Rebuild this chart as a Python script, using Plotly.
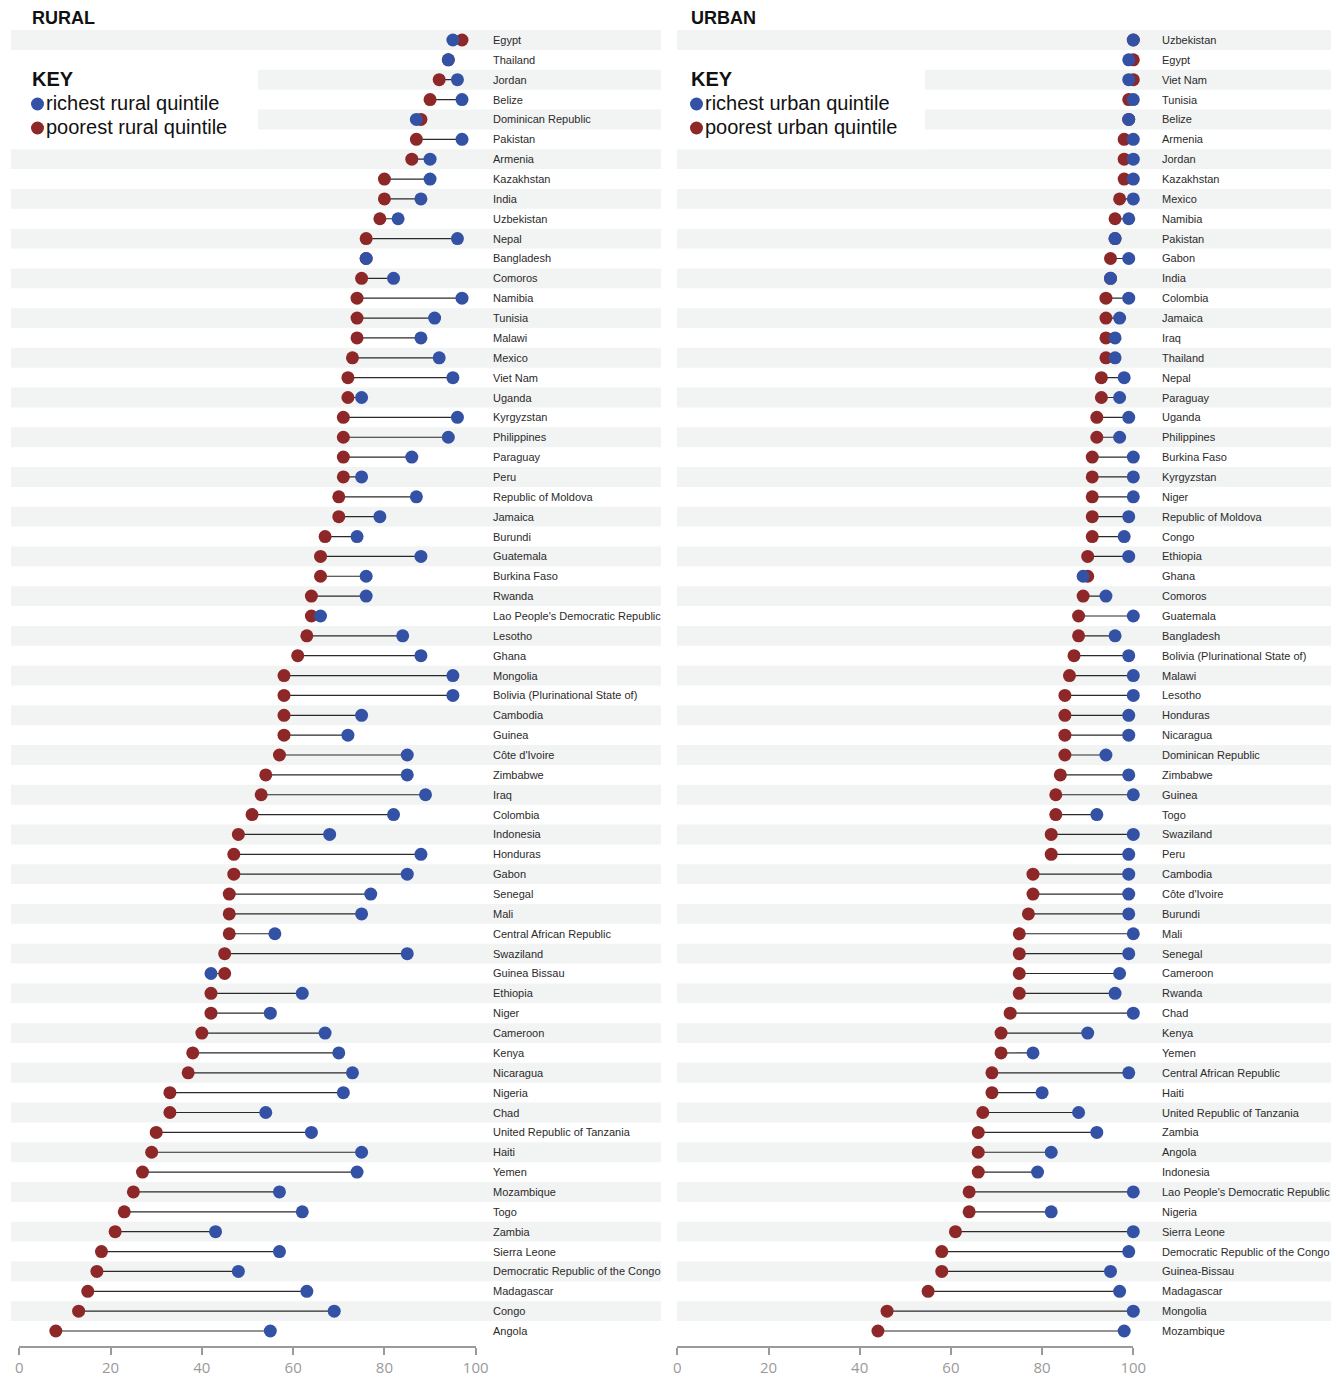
import plotly.graph_objects as go

# ---------------- DATA ----------------
rural_countries = [
    "Egypt", "Thailand", "Jordan", "Belize", "Dominican Republic", "Pakistan", "Armenia",
    "Kazakhstan", "India", "Uzbekistan", "Nepal", "Bangladesh", "Comoros", "Namibia",
    "Tunisia", "Malawi", "Mexico", "Viet Nam", "Uganda", "Kyrgyzstan", "Philippines",
    "Paraguay", "Peru", "Republic of Moldova", "Jamaica", "Burundi", "Guatemala",
    "Burkina Faso", "Rwanda", "Lao People's Democratic Republic", "Lesotho", "Ghana",
    "Mongolia", "Bolivia (Plurinational State of)", "Cambodia", "Guinea", "Côte d'Ivoire",
    "Zimbabwe", "Iraq", "Colombia", "Indonesia", "Honduras", "Gabon", "Senegal", "Mali",
    "Central African Republic", "Swaziland", "Guinea Bissau", "Ethiopia", "Niger",
    "Cameroon", "Kenya", "Nicaragua", "Nigeria", "Chad", "United Republic of Tanzania",
    "Haiti", "Yemen", "Mozambique", "Togo", "Zambia", "Sierra Leone",
    "Democratic Republic of the Congo", "Madagascar", "Congo", "Angola",
]
rural_poorest = [
    97, 94, 92, 90, 88, 87, 86, 80, 80, 79, 76, 76, 75, 74, 74, 74, 73, 72, 72, 71, 71,
    71, 71, 70, 70, 67, 66, 66, 64, 64, 63, 61, 58, 58, 58, 58, 57, 54, 53, 51, 48, 47,
    47, 46, 46, 46, 45, 45, 42, 42, 40, 38, 37, 33, 33, 30, 29, 27, 25, 23, 21, 18, 17,
    15, 13, 8,
]
rural_richest = [
    95, 94, 96, 97, 87, 97, 90, 90, 88, 83, 96, 76, 82, 97, 91, 88, 92, 95, 75, 96, 94,
    86, 75, 87, 79, 74, 88, 76, 76, 66, 84, 88, 95, 95, 75, 72, 85, 85, 89, 82, 68, 88,
    85, 77, 75, 56, 85, 42, 62, 55, 67, 70, 73, 71, 54, 64, 75, 74, 57, 62, 43, 57, 48,
    63, 69, 55,
]

urban_countries = [
    "Uzbekistan", "Egypt", "Viet Nam", "Tunisia", "Belize", "Armenia", "Jordan",
    "Kazakhstan", "Mexico", "Namibia", "Pakistan", "Gabon", "India", "Colombia", "Jamaica",
    "Iraq", "Thailand", "Nepal", "Paraguay", "Uganda", "Philippines", "Burkina Faso",
    "Kyrgyzstan", "Niger", "Republic of Moldova", "Congo", "Ethiopia", "Ghana", "Comoros",
    "Guatemala", "Bangladesh", "Bolivia (Plurinational State of)", "Malawi", "Lesotho",
    "Honduras", "Nicaragua", "Dominican Republic", "Zimbabwe", "Guinea", "Togo",
    "Swaziland", "Peru", "Cambodia", "Côte d'Ivoire", "Burundi", "Mali", "Senegal",
    "Cameroon", "Rwanda", "Chad", "Kenya", "Yemen", "Central African Republic", "Haiti",
    "United Republic of Tanzania", "Zambia", "Angola", "Indonesia",
    "Lao People's Democratic Republic", "Nigeria", "Sierra Leone",
    "Democratic Republic of the Congo", "Guinea-Bissau", "Madagascar", "Mongolia",
    "Mozambique",
]
urban_poorest = [
    100, 100, 100, 99, 99, 98, 98, 98, 97, 96, 96, 95, 95, 94, 94, 94, 94, 93, 93, 92, 92,
    91, 91, 91, 91, 91, 90, 90, 89, 88, 88, 87, 86, 85, 85, 85, 85, 84, 83, 83, 82, 82,
    78, 78, 77, 75, 75, 75, 75, 73, 71, 71, 69, 69, 67, 66, 66, 66, 64, 64, 61, 58, 58,
    55, 46, 44,
]
urban_richest = [
    100, 99, 99, 100, 99, 100, 100, 100, 100, 99, 96, 99, 95, 99, 97, 96, 96, 98, 97, 99,
    97, 100, 100, 100, 99, 98, 99, 89, 94, 100, 96, 99, 100, 100, 99, 99, 94, 99, 100, 92,
    100, 99, 99, 99, 99, 100, 99, 97, 96, 100, 90, 78, 99, 80, 88, 92, 82, 79, 100, 82,
    100, 99, 95, 97, 100, 98,
]

x_ticks = [0, 20, 40, 60, 80, 100]

# ---------------- STYLE ----------------
W, H = 1336, 1378
BLUE = "#3452a5"
RED = "#8e2828"
STRIPE = "#f2f3f3"
LINE = "#2a2a2a"
LABEL_FONT = "Liberation Sans, Arial, sans-serif"
HEAD_FONT = "Liberation Sans, Arial, Helvetica, sans-serif"
TICK_FONT = "Open Sans, Noto Sans, sans-serif"


def px(x):
    return x / W


def py(y):
    return 1 - y / H


n = len(rural_countries)
row_top, row_bot = 40.0, 1331.0
pitch = (row_bot - row_top) / (n - 1)
y_dom = [py(row_bot + pitch / 2), py(row_top - pitch / 2)]

fig = go.Figure()

panels = [
    dict(countries=rural_countries, poor=rural_poorest, rich=rural_richest,
         xa="x", ya="y", xdom=[px(19.3), px(475.7)], stripe=(11, 661), keycut=258,
         label_x=491, title="RURAL", tx=30,
         keys=["richest rural quintile", "poorest rural quintile"]),
    dict(countries=urban_countries, poor=urban_poorest, rich=urban_richest,
         xa="x2", ya="y2", xdom=[px(677.3), px(1133.3)], stripe=(677, 1331), keycut=925,
         label_x=1160, title="URBAN", tx=689,
         keys=["richest urban quintile", "poorest urban quintile"]),
]

shapes = []
annotations = []

for p in panels:
    idx = list(range(len(p["countries"])))
    yref = p["ya"]
    # stripes
    for i in idx:
        if i % 2 == 0:
            shapes.append(dict(type="rect", xref="paper", yref=yref,
                               x0=px(p["stripe"][0]), x1=px(p["stripe"][1]),
                               y0=i - 0.5, y1=i + 0.5, fillcolor=STRIPE,
                               line=dict(width=0), layer="below"))
    # white key cut-out
    shapes.append(dict(type="rect", xref="paper", yref=yref,
                       x0=px(p["stripe"][0]), x1=px(p["keycut"]),
                       y0=1.5, y1=5.5, fillcolor="white",
                       line=dict(width=0), layer="below"))
    # connecting lines
    lx, ly = [], []
    for i in idx:
        lx += [p["poor"][i], p["rich"][i], None]
        ly += [i, i, None]
    fig.add_trace(go.Scatter(x=lx, y=ly, mode="lines", xaxis=p["xa"], yaxis=p["ya"],
                             line=dict(color=LINE, width=1.2), hoverinfo="skip",
                             showlegend=False, cliponaxis=False))
    fig.add_trace(go.Scatter(x=p["poor"], y=idx, mode="markers", xaxis=p["xa"], yaxis=p["ya"],
                             marker=dict(color=RED, size=13, line=dict(width=0)),
                             text=p["countries"], showlegend=False, cliponaxis=False,
                             hovertemplate="%{text}: %{x}<extra>poorest</extra>"))
    fig.add_trace(go.Scatter(x=p["rich"], y=idx, mode="markers", xaxis=p["xa"], yaxis=p["ya"],
                             marker=dict(color=BLUE, size=13, line=dict(width=0)),
                             text=p["countries"], showlegend=False, cliponaxis=False,
                             hovertemplate="%{text}: %{x}<extra>richest</extra>"))
    # country labels
    for i, c in zip(idx, p["countries"]):
        annotations.append(dict(x=px(p["label_x"]), y=i, xref="paper", yref=yref,
                                text=c, showarrow=False, xanchor="left", yanchor="middle",
                                font=dict(family=LABEL_FONT, size=11, color="#2b2b2b")))
    # title
    annotations.append(dict(x=px(p["tx"]), y=py(18), xref="paper", yref="paper",
                            text="<b>" + p["title"] + "</b>", showarrow=False,
                            xanchor="left", yanchor="middle",
                            font=dict(family=HEAD_FONT, size=18, color="#111111")))
    annotations.append(dict(x=px(p["tx"]), y=py(79), xref="paper", yref="paper",
                            text="<b>KEY</b>", showarrow=False,
                            xanchor="left", yanchor="middle",
                            font=dict(family=HEAD_FONT, size=20, color="#111111")))
    for k, (label, col, yy) in enumerate(zip(p["keys"], [BLUE, RED], [104, 128])):
        cx = p["tx"] + 7.5
        shapes.append(dict(type="circle", xref="paper", yref="paper",
                           x0=px(cx - 6.5), x1=px(cx + 6.5), y0=py(yy + 6.5), y1=py(yy - 6.5),
                           fillcolor=col, line=dict(width=0)))
        annotations.append(dict(x=px(p["tx"] + 14), y=py(yy - 1), xref="paper", yref="paper",
                                text=label, showarrow=False, xanchor="left", yanchor="middle",
                                font=dict(family=HEAD_FONT, size=20, color="#111111")))

axis_common = dict(range=[0, 100], tickvals=x_ticks, showgrid=False, zeroline=False,
                   showline=True, linecolor="#9a9a9a", linewidth=2, ticks="outside",
                   ticklen=7, tickwidth=1.5, tickcolor="#9a9a9a",
                   tickfont=dict(family=TICK_FONT, size=15, color="#9a9a9a"),
                   anchor="free", position=py(1346.7), fixedrange=True, automargin=False)
yaxis_common = dict(range=[n - 0.5, -0.5], visible=False, domain=y_dom, fixedrange=True)

fig.update_layout(
    width=W, height=H,
    margin=dict(l=0, r=0, t=0, b=0, autoexpand=False),
    paper_bgcolor="white", plot_bgcolor="rgba(0,0,0,0)",
    xaxis=dict(domain=panels[0]["xdom"], **axis_common),
    xaxis2=dict(domain=panels[1]["xdom"], **axis_common),
    yaxis=dict(anchor="x", **yaxis_common),
    yaxis2=dict(anchor="x2", **yaxis_common),
    shapes=shapes,
    annotations=annotations,
    showlegend=False,
)

fig.write_html(
    "out.html",
    config={"displayModeBar": False},
    post_script="document.body.style.margin='0px';document.body.style.overflow='hidden';",
)
